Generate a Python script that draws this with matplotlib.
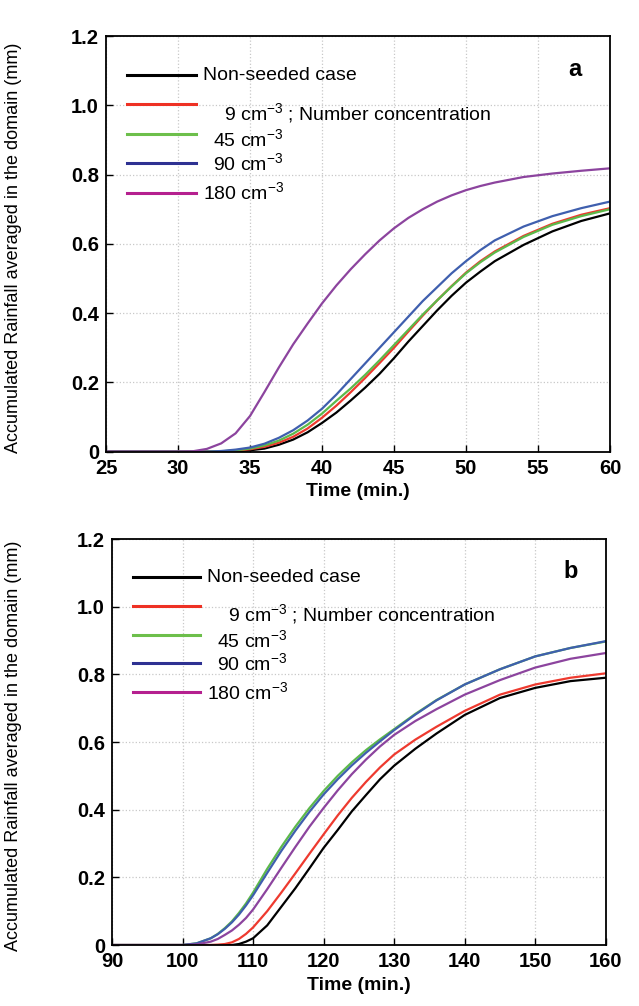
import matplotlib
matplotlib.use("Agg")
import matplotlib.pyplot as plt

plt.rcParams['font.family'] = ['Liberation Sans', 'DejaVu Sans']
plt.rcParams['mathtext.fontset'] = 'custom'
plt.rcParams['mathtext.rm'] = 'Liberation Sans'
plt.rcParams['mathtext.it'] = 'Liberation Sans'

# ---- data (a) : 25-60 min ----
time_a = [25, 30, 31, 32, 33, 34, 35, 36, 37, 38, 39, 40, 41, 42, 43, 44, 45, 46, 47, 48, 49, 50, 51, 52, 54, 56, 58, 60]
a_ns   = [0, 0, 0, 0, 0, 0.001, 0.004, 0.009, 0.02, 0.035, 0.056, 0.083, 0.113, 0.148, 0.185, 0.225, 0.27, 0.318, 0.363, 0.408, 0.45, 0.488, 0.52, 0.55, 0.597, 0.636, 0.666, 0.688]
a_9    = [0, 0, 0, 0, 0, 0.003, 0.007, 0.014, 0.026, 0.043, 0.067, 0.098, 0.133, 0.172, 0.213, 0.256, 0.30, 0.347, 0.393, 0.437, 0.478, 0.517, 0.55, 0.578, 0.623, 0.658, 0.684, 0.703]
a_45   = [0, 0, 0, 0, 0.001, 0.004, 0.009, 0.018, 0.032, 0.052, 0.078, 0.11, 0.147, 0.183, 0.222, 0.264, 0.308, 0.352, 0.396, 0.437, 0.477, 0.515, 0.547, 0.575, 0.62, 0.655, 0.68, 0.70]
a_90   = [0, 0, 0, 0, 0.002, 0.006, 0.012, 0.023, 0.04, 0.062, 0.09, 0.124, 0.165, 0.21, 0.255, 0.30, 0.345, 0.39, 0.435, 0.475, 0.515, 0.55, 0.582, 0.61, 0.65, 0.68, 0.703, 0.722]
a_180  = [0, 0, 0.001, 0.008, 0.024, 0.053, 0.103, 0.172, 0.243, 0.31, 0.37, 0.428, 0.48, 0.527, 0.57, 0.61, 0.645, 0.675, 0.70, 0.722, 0.74, 0.755, 0.767, 0.777, 0.793, 0.803, 0.811, 0.818]

# ---- data (b) : 90-160 min ----
time_b = [90, 100, 102, 104, 105, 106, 107, 108, 109, 110, 112, 114, 116, 118, 120, 122, 124, 126, 128, 130, 133, 136, 140, 145, 150, 155, 160]
b_ns   = [0, 0, 0, 0, 0, 0, 0, 0.003, 0.01, 0.02, 0.058, 0.113, 0.168, 0.227, 0.287, 0.34, 0.395, 0.443, 0.49, 0.53, 0.58, 0.625, 0.68, 0.73, 0.76, 0.78, 0.79]
b_9    = [0, 0, 0, 0, 0.001, 0.003, 0.008, 0.018, 0.033, 0.052, 0.10, 0.155, 0.212, 0.27, 0.327, 0.383, 0.435, 0.482, 0.525, 0.563, 0.607, 0.645, 0.692, 0.74, 0.77, 0.79, 0.803]
b_45   = [0, 0, 0.005, 0.02, 0.033, 0.05, 0.07, 0.095, 0.123, 0.155, 0.225, 0.29, 0.35, 0.405, 0.455, 0.50, 0.54, 0.576, 0.608, 0.638, 0.683, 0.724, 0.77, 0.815, 0.853, 0.878, 0.897]
b_90   = [0, 0, 0.005, 0.02, 0.032, 0.048, 0.067, 0.09, 0.117, 0.147, 0.213, 0.278, 0.338, 0.394, 0.445, 0.49, 0.531, 0.568, 0.602, 0.635, 0.681, 0.723, 0.77, 0.815, 0.853, 0.878, 0.898]
b_180  = [0, 0, 0.002, 0.01, 0.018, 0.03, 0.043, 0.06, 0.08, 0.105, 0.165, 0.228, 0.29, 0.35, 0.405, 0.457, 0.505, 0.548, 0.587, 0.621, 0.662, 0.697, 0.74, 0.783, 0.82, 0.846, 0.863]

labels = ['Non-seeded case', '9 cm$^{-3}$ ; Number concentration', '45 cm$^{-3}$', '90 cm$^{-3}$', '180 cm$^{-3}$']
line_cols = ['#000000', '#ee3a2f', '#5cb94a', '#3f5fae', '#8c449e']
leg_cols = ['#000000', '#ee3124', '#6dbf4b', '#2e3192', '#b5208f']
yticks = [0, 0.2, 0.4, 0.6, 0.8, 1.0, 1.2]
ytick_labels = ['0', '0.2', '0.4', '0.6', '0.8', '1.0', '1.2']

fig = plt.figure(figsize=(6.39, 10.06), dpi=100)
ax1 = fig.add_axes([0.1659, 0.551, 0.7887, 0.4132])
ax2 = fig.add_axes([0.1753, 0.0606, 0.7726, 0.4036])


def draw(ax, t, series, xlim, xticks, tag, ylab_x):
    for s, c in zip(series, line_cols):
        ax.plot(t, s, color=c, lw=1.6)
    ax.set_xlim(*xlim)
    ax.set_ylim(0, 1.2)
    ax.set_xticks(xticks)
    ax.set_yticks(yticks)
    ax.set_yticklabels(ytick_labels)
    ax.grid(True, linestyle=':', color='#c8c8c8', lw=0.9)
    ax.tick_params(direction='in', length=5, width=1, labelsize=14.5, pad=5)
    for lab in ax.get_xticklabels() + ax.get_yticklabels():
        lab.set_fontweight('bold')
    for sp in ax.spines.values():
        sp.set_linewidth(1.3)
    ax.set_xlabel('Time (min.)', fontsize=14, fontweight='bold', labelpad=4)
    ax.set_ylabel('Accumulated Rainfall averaged in the domain (mm)', fontsize=13)
    ax.yaxis.set_label_coords(ylab_x, 0.49)

    # hand-made legend, same arrangement as the figure
    ys = [0.906, 0.836, 0.764, 0.6945, 0.6223]
    for y, c in zip(ys, leg_cols):
        ax.plot([0.042, 0.179], [y, y], color=c, lw=2.2, transform=ax.transAxes, clip_on=False)
    ax.text(0.1925, 0.906, labels[0], transform=ax.transAxes, fontsize=14, va='center')
    ax.text(0.234, 0.8146, labels[1], transform=ax.transAxes, fontsize=14, va='center')
    ax.text(0.2123, 0.752, labels[2], transform=ax.transAxes, fontsize=14, va='center')
    ax.text(0.2123, 0.694, labels[3], transform=ax.transAxes, fontsize=14, va='center')
    ax.text(0.1925, 0.624, labels[4], transform=ax.transAxes, fontsize=14, va='center')
    ax.text(0.93, 0.92, tag, transform=ax.transAxes, fontsize=17, fontweight='bold', ha='center', va='center')


draw(ax1, time_a, [a_ns, a_9, a_45, a_90, a_180], (25, 60), [25, 30, 35, 40, 45, 50, 55, 60], 'a', -0.167)
draw(ax2, time_b, [b_ns, b_9, b_45, b_90, b_180], (90, 160), [90, 100, 110, 120, 130, 140, 150, 160], 'b', -0.182)

fig.savefig('out.png', dpi=100)
